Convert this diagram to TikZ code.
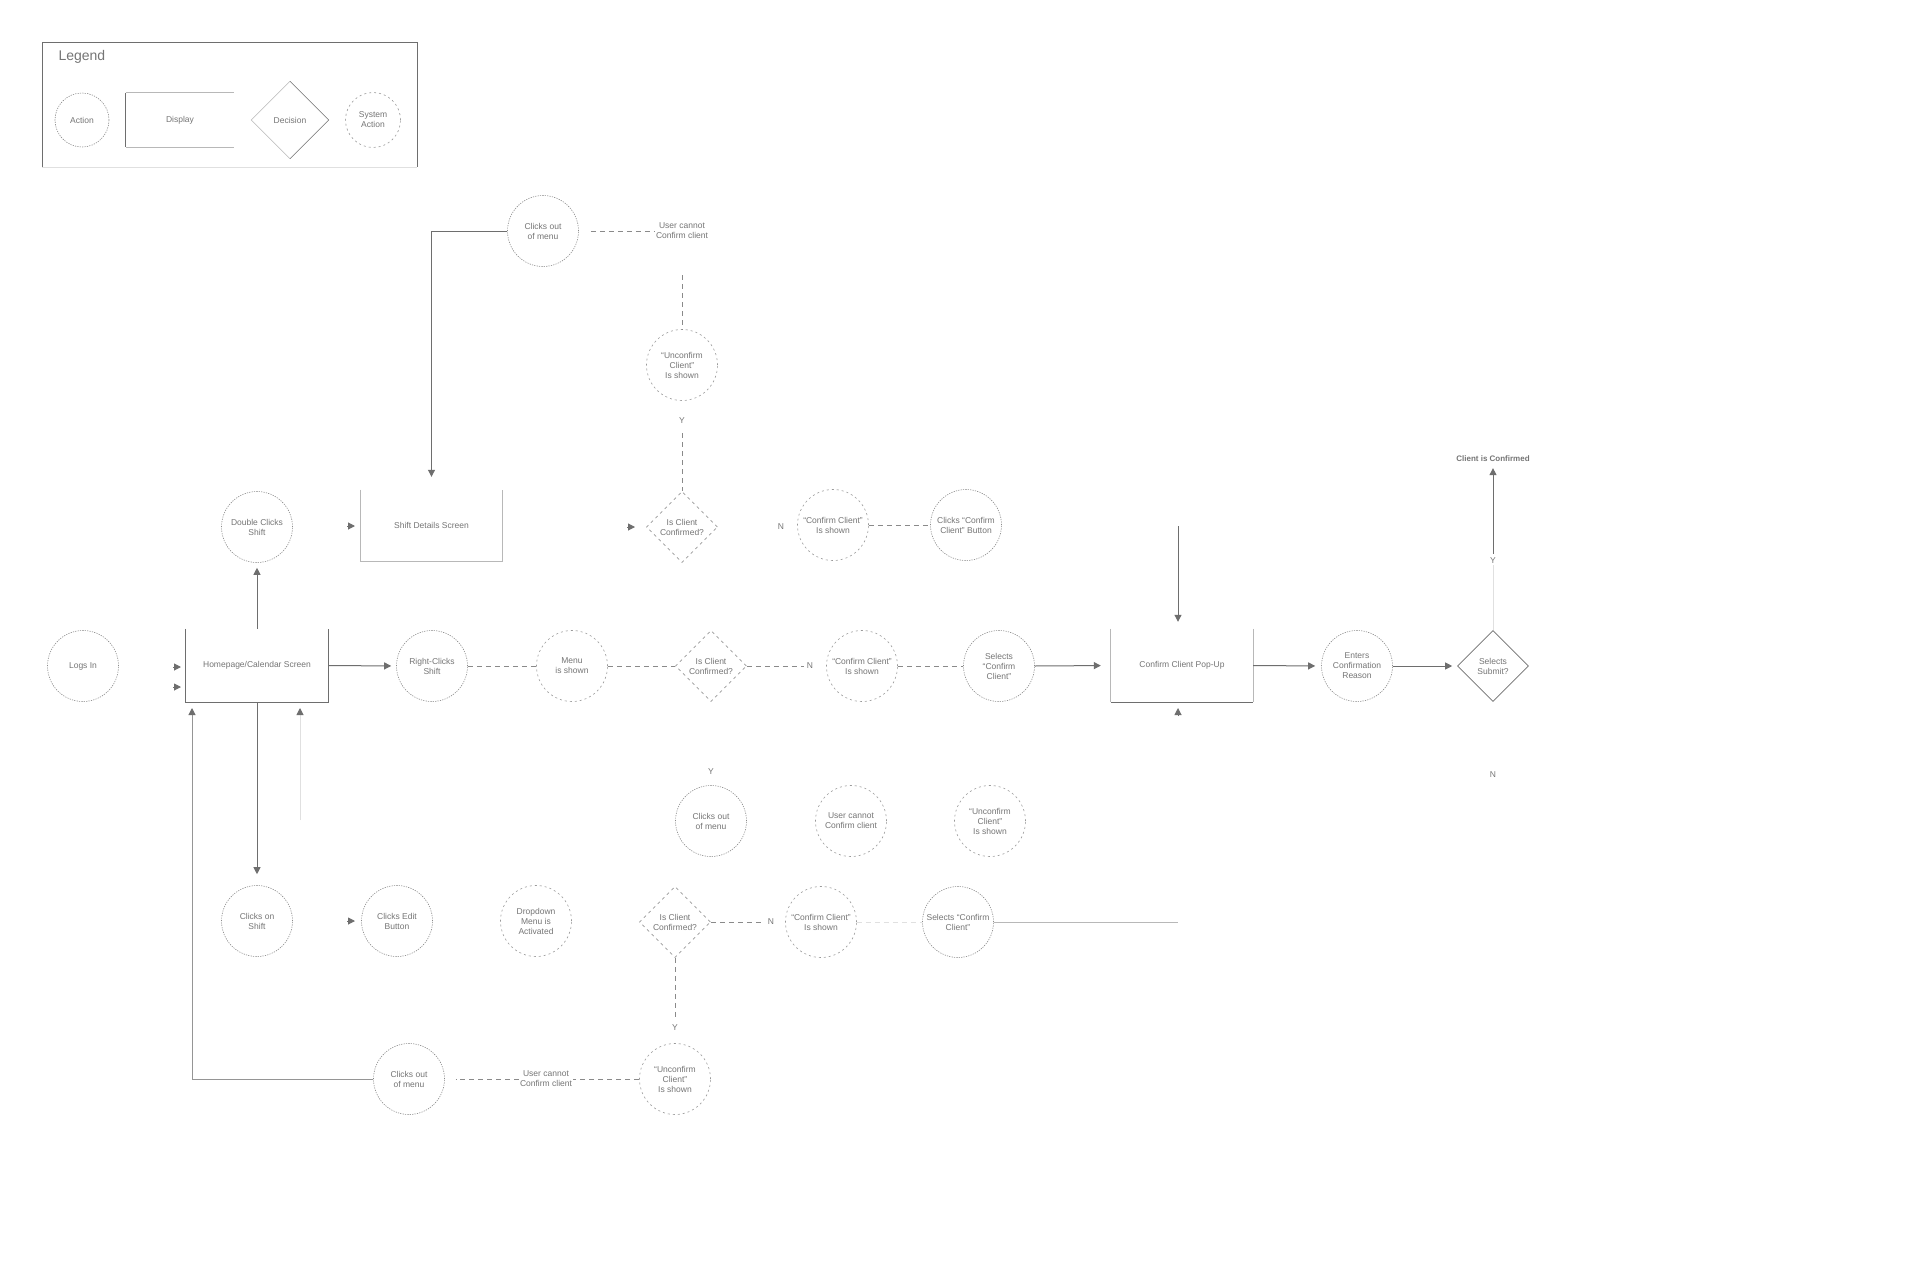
\documentclass[tikz,border=0pt]{standalone}
\usepackage{fontspec}
\setmainfont{Liberation Sans}
\usetikzlibrary{arrows.meta,shapes.geometric,calc}
\definecolor{txt}{HTML}{757575}
\definecolor{ln}{HTML}{6E6E6E}
\definecolor{md}{HTML}{959595}
\definecolor{dsh}{HTML}{8A8A8A}
\definecolor{lt}{HTML}{B8B8B8}
\definecolor{vlt}{HTML}{E0E0E0}
\definecolor{circ}{HTML}{8A8A8A}
\definecolor{sysc}{HTML}{999999}
\begin{document}
\begin{tikzpicture}[x=1pt,y=-1pt,
  font=\fontsize{8.5}{10}\selectfont, text=txt,
  act/.style={circle, draw=circ, line width=0.6pt, dash pattern=on 1.2pt off 1.2pt,
    minimum size=71pt, inner sep=0pt, align=center},
  sys/.style={act, draw=sysc, dash pattern=on 2pt off 3pt},
  dec/.style={diamond, draw=ln, line width=0.6pt, minimum size=71pt, inner sep=0pt, align=center},
  ddec/.style={dec, draw=sysc, dash pattern=on 3pt off 3.5pt},
  disp/.style={minimum width=142pt, minimum height=73pt, inner sep=0pt, align=center},
  lbl/.style={align=center, inner sep=1pt},
  arr/.style={draw=ln, line width=1pt, -{Triangle[length=7pt,width=7pt,color=ln]}},
  dline/.style={draw=dsh, line width=0.7pt, dash pattern=on 5pt off 4pt},
  sline/.style={draw=ln, line width=1pt}]
\useasboundingbox (0,0) rectangle (1920,1282);
\fill[white] (0,0) rectangle (1920,1282);

% ---------- Legend ----------
\draw[ln, line width=1pt] (42,167) -- (42,42) -- (417,42) -- (417,167);
\draw[vlt, line width=0.8pt] (42,167) -- (417,167);
\node[anchor=west, font=\fontsize{14}{16}\selectfont] (lgT) at (55,57) {Legend};
\node[act, minimum size=54pt] (lgA) at (82,120) {Action};
\node[minimum width=108pt, minimum height=54pt, inner sep=0pt] (lgD) at (180,120) {Display};
\draw[ln, line width=0.8pt] (lgD.north west) -- (lgD.south west);
\draw[lt, line width=0.8pt] (lgD.north west) -- (lgD.north east);
\draw[lt, line width=0.8pt] (lgD.south west) -- (lgD.south east);
\node[diamond, minimum size=77pt, inner sep=0pt] (lgX) at (290,120) {Decision};
\draw[lt, line width=0.6pt] (lgX.north) -- (lgX.west) -- (lgX.south);
\draw[ln, line width=0.6pt] (lgX.north) -- (lgX.east) -- (lgX.south);
\node[sys, minimum size=55pt] (lgS) at (373,120) {System\\Action};

% ---------- Main row ----------
\node[act] (logs) at (83,666) {Logs In};
\node[disp] (home) at (257,665.5) {Homepage/Calendar Screen};
\draw[ln, line width=1pt] (home.north west) -- (home.south west) -- (home.south east) -- (home.north east);
\node[act] (rclick) at (432,666) {Right-Clicks\\Shift};
\node[sys] (menu) at (572,666) {Menu\\is shown};
\node[ddec] (dMid) at (711,666) {Is Client\\Confirmed?};
\node[lbl] (nMid) at (810,666) {N};
\node[sys] (ccsMid) at (862,666) {“Confirm Client”\\Is shown};
\node[act] (selMid) at (999,666) {Selects\\“Confirm\\Client”};
\node[disp] (popup) at (1182,665.5) {Confirm Client Pop-Up};
\draw[lt, line width=1pt] (popup.north west) -- (popup.south west);
\draw[lt, line width=1pt] (popup.north east) -- (popup.south east);
\draw[ln, line width=1pt] (popup.south west) -- (popup.south east);
\node[act] (enters) at (1357,666) {Enters\\Confirmation\\Reason};
\node[dec] (submit) at (1493,666) {Selects\\Submit?};
\node[lbl] (ySub) at (1493,561) {Y};
\node[lbl] (nSub) at (1493,775) {N};
\node[lbl, font=\fontsize{8}{10}\selectfont\bfseries] (conf) at (1493,459) {Client is Confirmed};

% ---------- Upper part ----------
\node[act] (dbl) at (257,527) {Double Clicks\\Shift};
\node[minimum width=141pt, minimum height=71pt, inner sep=0pt] (shift) at (431.5,525.5) {Shift Details Screen};
\draw[lt, line width=1pt] (shift.north west) -- (shift.south west) -- (shift.south east) -- (shift.north east);
\node[act] (coTop) at (543,231) {Clicks out\\of menu};
\node[lbl] (ucTop) at (682,231) {User cannot\\Confirm client};
\node[sys] (unTop) at (682,365) {“Unconfirm\\Client”\\Is shown};
\node[lbl] (yTop) at (682,421) {Y};
\node[ddec] (dTop) at (682,527) {Is Client\\Confirmed?};
\node[lbl] (nTop) at (781,527) {N};
\node[sys] (ccsTop) at (833,525) {“Confirm Client”\\Is shown};
\node[act] (ccbTop) at (966,525) {Clicks “Confirm\\Client” Button};

% ---------- Lower part ----------
\node[lbl] (yMid) at (711,772) {Y};
\node[act] (coMid) at (711,821) {Clicks out\\of menu};
\node[sys] (ucMid) at (851,821) {User cannot\\Confirm client};
\node[sys] (unMid) at (990,821) {“Unconfirm\\Client”\\Is shown};
\node[act] (clkShift) at (257,921) {Clicks on\\Shift};
\node[act] (clkEdit) at (397,921) {Clicks Edit\\Button};
\node[sys] (drop) at (536,921) {Dropdown\\Menu is\\Activated};
\node[ddec] (dLow) at (675,922) {Is Client\\Confirmed?};
\node[lbl] (nLow) at (771,922) {N};
\node[sys] (ccsLow) at (821,922) {“Confirm Client”\\Is shown};
\node[act] (selLow) at (958,922) {Selects “Confirm\\Client”};
\node[lbl] (yLow) at (675,1028) {Y};
\node[sys] (unLow) at (675,1079) {“Unconfirm\\Client”\\Is shown};
\node[lbl] (ucLow) at (546,1079) {User cannot\\Confirm client};
\node[act] (coLow) at (409,1079) {Clicks out\\of menu};

% ---------- Connectors ----------
\draw[arr, shorten >=5pt] (home.north) -- (dbl.south);
\draw[arr, shorten >=5pt] (home.east) -- (rclick.west);
\draw[arr, shorten >=11pt] (home.south) -- (clkShift.north);
\draw[arr, shorten >=13pt] (coTop.west) -| (shift.north);
\draw[dline, shorten <=12pt] (coTop.east) -- (ucTop.west);
\draw[dline, shorten <=35pt] (ucTop.south) -- (unTop.north);
\draw[dline, shorten <=8pt] (yTop.south) -- (dTop.north);
\draw[dline] (ccsTop.east) -- (ccbTop.west);
\draw[dline] (rclick.east) -- (menu.west);
\draw[dline] (menu.east) -- (dMid.west);
\draw[dline, shorten >=2pt] (dMid.east) -- (nMid.west);
\draw[dline] (ccsMid.east) -- (selMid.west);
\draw[arr, shorten >=10pt] (selMid.east) -- (popup.west);
\coordinate (pIn) at (1178,526);
\draw[arr, shorten >=7pt] (pIn) -- (pIn |- popup.north);
\draw[arr, shorten >=6pt] (popup.east) -- (enters.west);
\draw[arr, shorten >=5pt] (enters.east) -- (submit.west);
\draw[vlt, line width=1pt] (submit.north) -- (ySub.south);
\draw[arr, shorten <=3pt, shorten >=5pt] (ySub.north) -- (conf.south);
\draw[dline, shorten >=2pt] (dLow.east) -- (nLow.west);
\draw[dline, draw=vlt] (ccsLow.east) -- (selLow.west);
\coordinate (endLow) at (1178,922);
\draw[lt, line width=1pt] (selLow.east) -- (endLow);
\draw[dline, shorten >=4pt] (dLow.south) -- (yLow.north);
\draw[dline] (unLow.west) -- (ucLow.east);
\draw[dline, shorten >=11pt] (ucLow.west) -- (coLow.east);
\coordinate (hB) at (192,702);
\draw[arr, draw=md, shorten >=6pt] (coLow.west) -| (hB);
\coordinate (fA) at (300,820);
\coordinate (fB) at (300,702);
\draw[arr, draw=vlt, shorten >=6pt] (fA) -- (fB);

% ---------- Stand-alone arrow tips ----------
\coordinate (t1) at (181,667);
\coordinate (t2) at (181,687);
\coordinate (t3) at (355,526);
\coordinate (t4) at (635,527);
\coordinate (t5) at (355,921);
\coordinate (t6) at (1178,708);
\draw[arr] ($(t1)+(-8,0)$) -- (t1);
\draw[arr] ($(t2)+(-8,0)$) -- (t2);
\draw[arr] ($(t3)+(-8,0)$) -- (t3);
\draw[arr] ($(t4)+(-8,0)$) -- (t4);
\draw[arr] ($(t5)+(-8,0)$) -- (t5);
\draw[arr] ($(t6)+(0,8)$) -- (t6);
\end{tikzpicture}
\end{document}
